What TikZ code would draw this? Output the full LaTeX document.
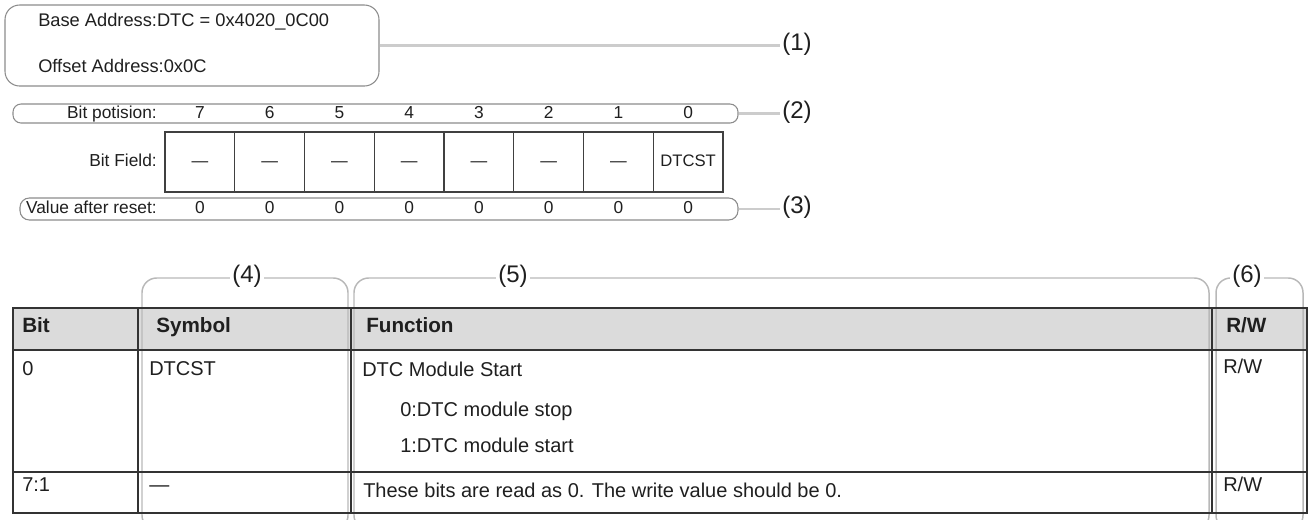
\documentclass[tikz,border=0pt]{standalone}
\usepackage{fontspec}
\setmainfont{Liberation Sans}
\usepackage{tikz}

\begin{document}
\begin{tikzpicture} [x = 0.75pt, y = -0.75pt,
    every node/.style = {inner sep = 0pt, text = black!88,
        text height = 0.72em, text depth = 0pt},
    frame/.style = {draw = black!45, line width = 0.8pt},
    lead/.style = {draw = black!20, line width = 1.6pt},
    bracket/.style = {draw = black!28, line width = 1.1pt, rounded corners = 11pt},
    tag/.style = {font = \fontsize{18}{18}\selectfont, fill = white, inner xsep = 1.5pt},
    small/.style = {font = \fontsize{13}{13}\selectfont},
    cell/.style = {draw = black!75, line width = 0.9pt,
        minimum width = 52.31pt, minimum height = 45pt,
        font = \fontsize{12.5}{12.5}\selectfont},
    txt/.style = {anchor = west, font = \fontsize{15}{15}\selectfont},
    head/.style = {anchor = west, font = \fontsize{15.5}{15.5}\selectfont\bfseries},
    rule/.style = {draw = black!80, line width = 1pt}]

\useasboundingbox (0,0) rectangle (1309,519);
\clip (0,0) rectangle (1309,519);

\node (addr) at (192,45.5) [frame, rounded corners = 11pt,
    minimum width = 280.5pt, minimum height = 60.75pt] {};
\node (base) at (38,22) [anchor = west, font = \fontsize{13.7}{13.7}\selectfont]
    {Base Address:DTC = 0x4020\_0C00};
\node (offset) at (38,68) [anchor = west, font = \fontsize{13.7}{13.7}\selectfont]
    {Offset Address:0x0C};
\node (t1) at (780,45.5) [tag, anchor = west] {(1)};
\draw [lead] (addr.east) -- (t1.west);

\node (pos) at (375.5,113.5) [frame, rounded corners = 6pt,
    minimum width = 543.75pt, minimum height = 14.25pt] {};
\node (poslabel) at (157,113.5) [small, anchor = east] {Bit potision:};
\foreach \b [count = \i from 0] in {7,6,...,0}
    \node (pos\b) at (199.875 + 69.75*\i, 113.5) [small] {\b};
\node (t2) at (780,113.5) [tag, anchor = west] {(2)};
\draw [lead] (pos.east) -- (t2.west);

\node (fieldlabel) at (157,162) [small, anchor = east] {Bit Field:};
\foreach \f [count = \i from 0] in {—,—,—,—,—,—,—,DTCST}
    \node (field\i) at (199.875 + 69.75*\i, 162) [cell] {\f};

\node (reset) at (379,209) [frame, rounded corners = 7pt,
    minimum width = 538.5pt, minimum height = 16.5pt] {};
\node (resetlabel) at (157,209) [small, anchor = east] {Value after reset:};
\foreach \i in {0,...,7}
    \node (reset\i) at (199.875 + 69.75*\i, 209) [small] {0};
\node (t3) at (780,209) [tag, anchor = west] {(3)};
\draw [lead] (reset.east) -- (t3.west);

\fill [black!14] (13,308) rectangle (1307,350);

\node (symbol) at (245,404) [bracket, minimum width = 154.5pt, minimum height = 189pt] {};
\node (function) at (781.5,404) [bracket, minimum width = 641.25pt, minimum height = 189pt] {};
\node (access) at (1259.5,404) [bracket, minimum width = 65.25pt, minimum height = 189pt] {};
\node (t4) at (247,278) [tag] {(4)};
\node (t5) at (513,278) [tag] {(5)};
\node (t6) at (1247,278) [tag] {(6)};

\draw [rule] (13,308) rectangle (1307,513);
\draw [rule] (13,350) -- (1307,350) (13,472) -- (1307,472);
\foreach \x in {138,351,1212}
    \draw [rule] (\x,308) -- (\x,513);

\node (hbit) at (22,328) [head] {Bit};
\node (hsym) at (156,328) [head] {Symbol};
\node (hfun) at (366,328) [head] {Function};
\node (hrw) at (1226,328) [head] {R/W};

\node (bit0) at (22,371) [txt] {0};
\node (sym0) at (149,371) [txt] {DTCST};
\node (fun0) at (362,372) [txt] {DTC Module Start};
\node (stop) at (400,412) [txt] {0:DTC module stop};
\node (start) at (400,448) [txt] {1:DTC module start};
\node (rw0) at (1223,369) [txt] {R/W};

\node (bit1) at (22,487) [txt] {7:1};
\node (sym1) at (149,487) [txt] {—};
\node (fun1) at (363,493) [txt] {These bits are read as 0. The write value should be 0.};
\node (rw1) at (1223,487) [txt] {R/W};

\end{tikzpicture}
\end{document}
